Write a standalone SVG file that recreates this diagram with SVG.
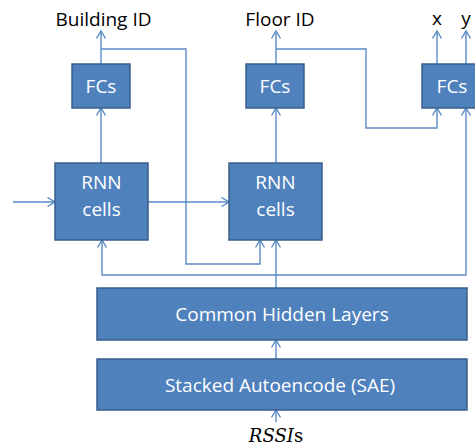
<svg xmlns="http://www.w3.org/2000/svg" width="475" height="446" viewBox="0 0 475 446">
  <style>
    .box { fill: #4F81BD; stroke: #385D8A; stroke-width: 1.5; }
    .lbl { font-family: "Open Sans", "Liberation Sans", sans-serif; font-size: 19px; fill: #FFFFFF; text-anchor: middle; }
    .out { font-family: "Open Sans", "Liberation Sans", sans-serif; font-size: 19px; fill: #000000; text-anchor: middle; }
    .wire { fill: none; stroke: #5A8AC6; stroke-width: 1.4; marker-end: url(#arr); }
  </style>
  <defs>
    <marker id="arr" viewBox="0 0 10 10" refX="9" refY="5" markerWidth="10" markerHeight="10" markerUnits="userSpaceOnUse" orient="auto">
      <path d="M1.5,0.5 L9,5 L1.5,9.5" fill="none" stroke="#5A8AC6" stroke-width="1.4"/>
    </marker>
  </defs>

  <rect width="475" height="446" fill="#FFFFFF"/>

  <g id="connectors">
    <path class="wire" d="M13,202 H55"/>
    <path class="wire" d="M148,202 H229"/>
    <path class="wire" d="M101,163 V108"/>
    <path class="wire" d="M101,64 V31"/>
    <path class="wire" d="M276,163 V108"/>
    <path class="wire" d="M276,64 V31"/>
    <path class="wire" d="M437,64 V31"/>
    <path class="wire" d="M466,64 V31"/>
    <path class="wire" d="M101,49 H186 V264 H260 V240"/>
    <path class="wire" d="M276,49 H366 V128 H437 V108"/>
    <path class="wire" d="M276,288 V240"/>
    <path class="wire" d="M276,275 H102 V240"/>
    <path class="wire" d="M276,275 H466 V108"/>
    <path class="wire" d="M276,359 V340"/>
    <path class="wire" d="M276,422 V410"/>
  </g>

  <g id="fcs-building">
    <rect class="box" x="72" y="64" width="58" height="44"/>
    <text class="lbl" x="101" y="93">FCs</text>
  </g>
  <g id="fcs-floor">
    <rect class="box" x="246" y="64" width="58" height="44"/>
    <text class="lbl" x="275" y="93">FCs</text>
  </g>
  <g id="fcs-xy">
    <rect class="box" x="422" y="64" width="60" height="44"/>
    <text class="lbl" x="452" y="93">FCs</text>
  </g>
  <g id="rnn-1">
    <rect class="box" x="55" y="163" width="93" height="77"/>
    <text class="lbl" x="101.5" y="189">RNN</text>
    <text class="lbl" x="101.5" y="216">cells</text>
  </g>
  <g id="rnn-2">
    <rect class="box" x="229" y="163" width="93" height="77"/>
    <text class="lbl" x="275.5" y="189">RNN</text>
    <text class="lbl" x="275.5" y="216">cells</text>
  </g>
  <g id="common-hidden">
    <rect class="box" x="97" y="288" width="370" height="52"/>
    <text class="lbl" x="282" y="321">Common Hidden Layers</text>
  </g>
  <g id="sae">
    <rect class="box" x="97" y="359" width="370" height="51"/>
    <text class="lbl" x="280" y="392">Stacked Autoencode (SAE)</text>
  </g>

  <g id="outputs">
    <text class="out" x="103.5" y="26">Building ID</text>
    <text class="out" x="280" y="26">Floor ID</text>
    <text class="out" x="437" y="25">x</text>
    <text class="out" x="466" y="25">y</text>
  </g>
  <g id="input">
    <text x="276" y="442" font-family="'DejaVu Serif', 'Liberation Serif', serif" font-size="18" text-anchor="middle" fill="#000000"><tspan font-style="italic">RSSI</tspan>s</text>
  </g>
</svg>
